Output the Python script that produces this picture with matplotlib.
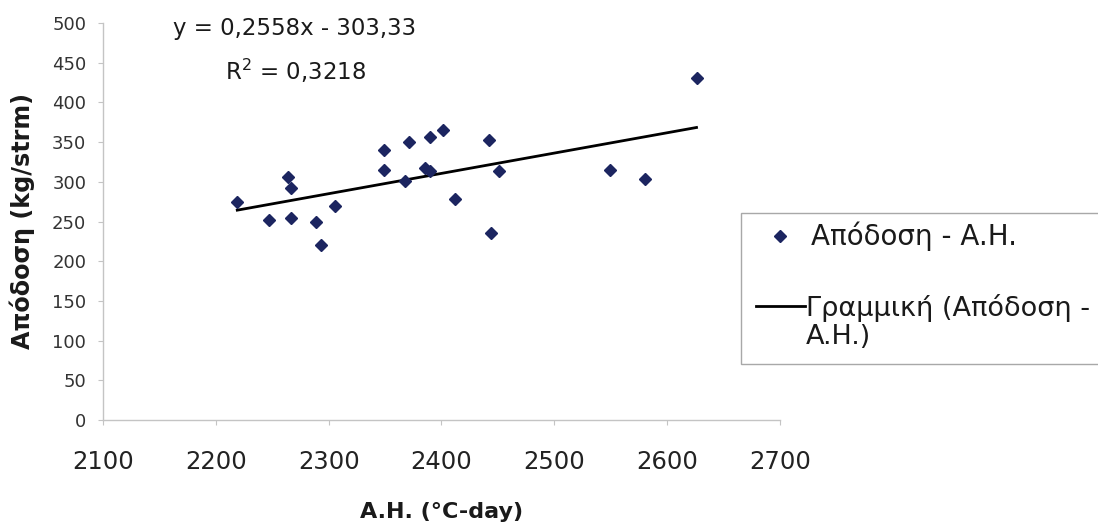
import matplotlib
matplotlib.use("Agg")
import matplotlib.pyplot as plt
from matplotlib.lines import Line2D
from matplotlib.patches import Rectangle
import numpy as np

# ---- data ----
heat_units = [2219, 2247, 2264, 2267, 2267, 2289, 2293, 2306, 2349, 2349,
              2368, 2371, 2385, 2390, 2390, 2401, 2412, 2442, 2444, 2451,
              2549, 2580, 2626]
yield_vals = [275, 252, 306, 292, 255, 250, 221, 270, 340, 315,
              301, 350, 318, 314, 357, 365, 278, 353, 235, 314,
              315, 304, 431]
slope = 0.2558
intercept = -303.33
r_squared = "0,3218"
x_ticks = [2100, 2200, 2300, 2400, 2500, 2600, 2700]
y_ticks = [0, 50, 100, 150, 200, 250, 300, 350, 400, 450, 500]

series_label = "Απόδοση - A.H."
trend_label = "Γραμμική (Απόδοση -\nA.H.)"
eq_text = "y = 0,2558x - 303,33"
r2_text = "R$^{2}$ = " + r_squared
x_label = "A.H. (°C-day)"
y_label = "Απόδοση (kg/strm)"

plt.rcParams['font.family'] = ['DejaVu Sans']
plt.rcParams['mathtext.fontset'] = 'dejavusans'

W, H = 1098, 529
fig = plt.figure(figsize=(W / 100, H / 100), dpi=100)
fig.patch.set_facecolor('white')

ax = fig.add_axes([103 / W, 1 - 420 / H, (780 - 103) / W, (420 - 23) / H])
ax.set_xlim(2100, 2700)
ax.set_ylim(0, 500)

marker_color = '#1c2560'
ax.plot(heat_units, yield_vals, linestyle='none', marker='D', markersize=5.8,
        color=marker_color, zorder=3)

xfit = np.array([min(heat_units), max(heat_units)])
ax.plot(xfit, slope * xfit + intercept, color='black', linewidth=2.0, zorder=2)

for side in ['top', 'right']:
    ax.spines[side].set_visible(False)
for side in ['left', 'bottom']:
    ax.spines[side].set_color('#c4c4c4')
    ax.spines[side].set_linewidth(1.0)

ax.set_xticks(x_ticks)
ax.set_yticks(y_ticks)
ax.tick_params(axis='y', direction='out', length=3.5, color='#c4c4c4',
               labelsize=13, labelcolor='#333333', pad=8.5)
ax.tick_params(axis='x', direction='out', length=3.5, color='#c4c4c4',
               labelsize=17.5, labelcolor='#222222', pad=18)

fig.text(442 / W, 1 - 512 / H, x_label, ha='center', va='center',
         fontsize=16, fontweight='bold', color='#1a1a1a')
fig.text(22 / W, 1 - 221 / H, y_label, ha='center', va='center',
         rotation=90, fontsize=17.2, fontweight='bold', color='#1a1a1a')

fig.text(295 / W, 1 - 29 / H, eq_text, ha='center', va='center',
         fontsize=16.5, color='#1a1a1a')
fig.text(296 / W, 1 - 71 / H, r2_text, ha='center', va='center',
         fontsize=16.5, color='#1a1a1a')

# legend (manual, entries aligned like the original)
fig.patches.append(Rectangle((741 / W, 1 - 364 / H), (1120 - 741) / W,
                             (364 - 213) / H, transform=fig.transFigure,
                             facecolor='white', edgecolor='#a8a8a8',
                             linewidth=1.0, zorder=1))
fig.lines.append(Line2D([780 / W], [1 - 236 / H], transform=fig.transFigure,
                        linestyle='none', marker='D', markersize=5.8,
                        color=marker_color))
fig.lines.append(Line2D([756 / W, 805 / W], [1 - 306 / H, 1 - 306 / H],
                        transform=fig.transFigure, color='black',
                        linewidth=2.0))
fig.text(811 / W, 1 - 236 / H, series_label, ha='left', va='center',
         fontsize=20, color='#1a1a1a')
fig.text(806 / W, 1 - 322 / H, trend_label, ha='left', va='center',
         fontsize=19.5, color='#1a1a1a', linespacing=1.1)

fig.savefig('out.png', dpi=100, facecolor='white')
